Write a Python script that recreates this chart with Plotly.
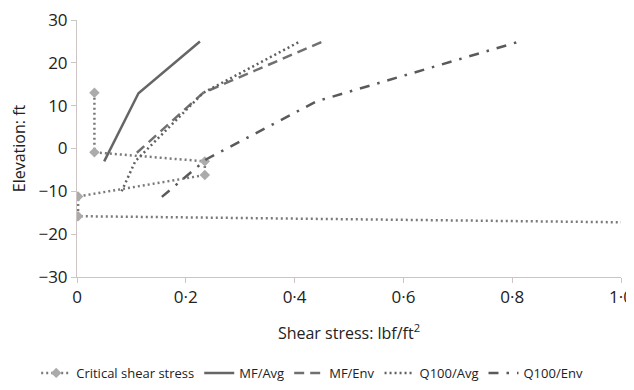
import plotly.graph_objects as go

# Data
crit_x = [0.032, 0.032, 0.235, 0.235, 0.002, 0.002, 1.05]
crit_y = [13.0, -0.9, -3.0, -6.2, -11.2, -15.8, -17.3]

mf_avg_x = [0.050, 0.113, 0.226]
mf_avg_y = [-3.0, 12.9, 25.0]

mf_env_x = [0.110, 0.232, 0.452]
mf_env_y = [-1.0, 13.0, 25.0]

q100_avg_x = [0.082, 0.107, 0.232, 0.410]
q100_avg_y = [-10.0, -3.0, 13.0, 25.0]

q100_env_x = [0.156, 0.238, 0.440, 0.814]
q100_env_y = [-11.3, -2.5, 11.0, 25.0]

x_ticks = [0, 0.2, 0.4, 0.6, 0.8, 1.0]
x_tick_labels = ["0", "0·2", "0·4", "0·6", "0·8", "1·0"]
y_ticks = [-30, -20, -10, 0, 10, 20, 30]
y_tick_labels = ["−30", "−20", "−10", "0", "10", "20", "30"]

FONT = "Open Sans"

fig = go.Figure()
fig.add_trace(go.Scatter(
    x=crit_x, y=crit_y, name="Critical shear stress", mode="lines+markers",
    line=dict(color="#7a7a7a", width=2.5, dash="2px,3px"),
    marker=dict(symbol="diamond", size=8, color="#ababab"),
))
fig.add_trace(go.Scatter(
    x=mf_avg_x, y=mf_avg_y, name="MF/Avg", mode="lines",
    line=dict(color="#666666", width=2.5),
))
fig.add_trace(go.Scatter(
    x=mf_env_x, y=mf_env_y, name="MF/Env", mode="lines",
    line=dict(color="#707070", width=2.5, dash="10px,6px"),
))
fig.add_trace(go.Scatter(
    x=q100_avg_x, y=q100_avg_y, name="Q100/Avg", mode="lines",
    line=dict(color="#606060", width=2.5, dash="2px,3px"),
))
fig.add_trace(go.Scatter(
    x=q100_env_x, y=q100_env_y, name="Q100/Env", mode="lines",
    line=dict(color="#5a5a5a", width=2.5, dash="10px,8px,2.5px,8px"),
))

axis_color = "#cdc4c4"
# The page body adds an 8px offset; margins compensate so the plot area
# lands at x 77..621, y 20..278 in the window.
fig.update_layout(
    width=634, height=390,
    margin=dict(l=69, r=21, t=12, b=120),
    paper_bgcolor="white", plot_bgcolor="white",
    font=dict(family=FONT, color="#222222", size=16),
    showlegend=True,
    legend=dict(
        orientation="h", x=-0.075, xanchor="left", y=-0.368, yanchor="middle",
        font=dict(size=13, family=FONT, color="#222222"),
        itemwidth=30, tracegroupgap=0,
    ),
    xaxis=dict(
        range=[0, 1.0], tickvals=x_ticks, ticktext=x_tick_labels,
        showgrid=False, zeroline=False, showline=True, linecolor=axis_color, linewidth=1,
        ticks="outside", ticklen=5, tickcolor=axis_color,
        tickfont=dict(size=17), automargin=False, ticklabeloverflow="allow",
        title=dict(text="Shear stress: lbf/ft<sup>2</sup>", font=dict(size=16), standoff=20),
    ),
    yaxis=dict(
        range=[-30, 30], tickvals=y_ticks, ticktext=y_tick_labels,
        showgrid=False, zeroline=False, showline=True, linecolor=axis_color, linewidth=1,
        ticks="outside", ticklen=5, tickcolor=axis_color,
        tickfont=dict(size=17), automargin=False, ticklabeloverflow="allow",
        title=dict(text="Elevation: ft", font=dict(size=16), standoff=18),
    ),
)

fig.write_html("out.html")
